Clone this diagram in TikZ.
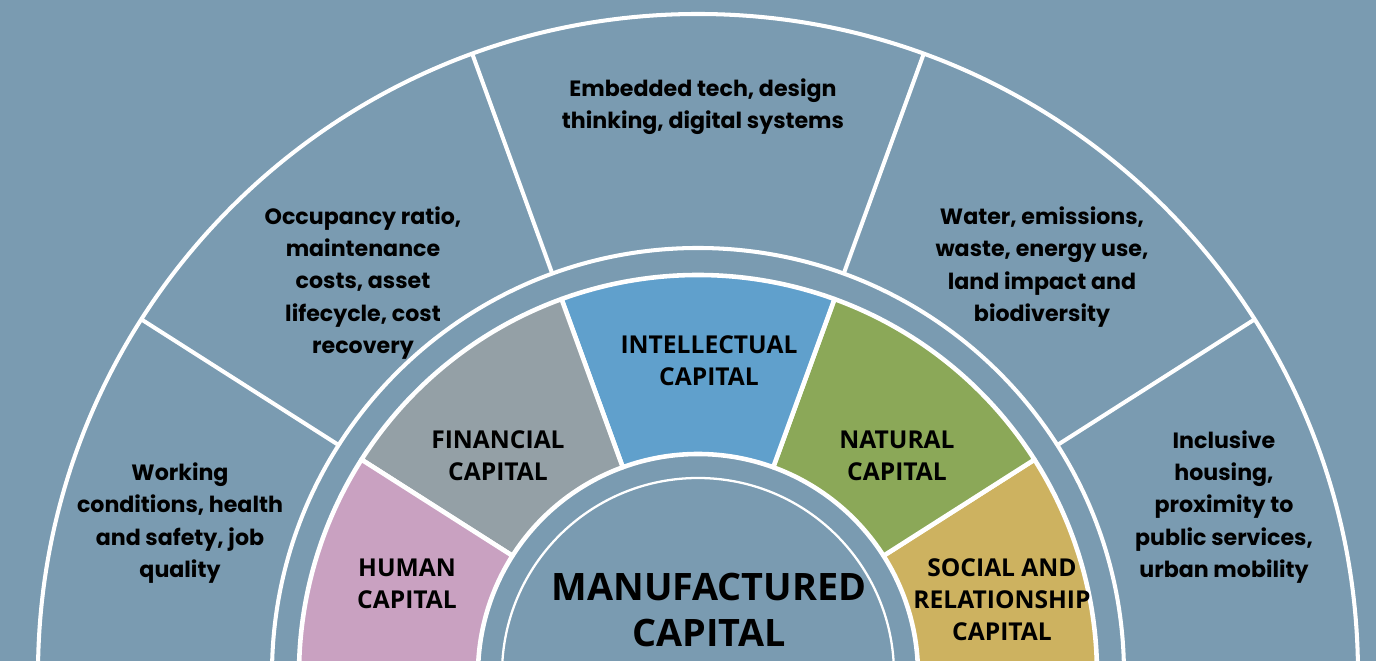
\documentclass[tikz,border=0pt]{standalone}
\usepackage{fontspec}
\setmainfont{Open Sans}
\newfontfamily\notefont{Poppins}
\usetikzlibrary{positioning}

\definecolor{bgblue}{RGB}{122,155,177}
\definecolor{humanpink}{RGB}{201,161,193}
\definecolor{financegrey}{RGB}{148,160,166}
\definecolor{intellblue}{RGB}{96,160,204}
\definecolor{naturegreen}{RGB}{139,168,88}
\definecolor{socialgold}{RGB}{205,178,96}

\begin{document}
\begin{tikzpicture}[
    x=0.02cm, y=0.02cm,
    ringline/.style={white, line width=2.3pt},
    segment/.style={draw=white, line width=2.6pt, line join=round},
    caplabel/.style={align=center, inner sep=0pt, font=\bfseries\fontsize{14}{18.2}\selectfont},
    note/.style={align=center, inner sep=0pt, font=\notefont\bfseries\fontsize{12.6}{18.4}\selectfont}
]

\useasboundingbox (-698,13) rectangle (678,674);
\clip (-698,13) rectangle (678,674);
\fill[bgblue] (-698,13) rectangle (678,674);

% outer ring of notes
\draw[ringline] (0,0) circle[radius=660];
\draw[ringline] (0,0) circle[radius=426];
\draw[ringline] (32.5:426) -- (32.5:660);
\draw[ringline] (70:426) -- (70:660);
\draw[ringline] (110:426) -- (110:660);
\draw[ringline] (147.5:426) -- (147.5:660);

% coloured ring of capitals
\path[segment, fill=socialgold] (0:220) -- (0:399) arc[start angle=0, end angle=32.5, radius=399] -- (32.5:220) arc[start angle=32.5, end angle=0, radius=220] -- cycle;
\path[segment, fill=naturegreen] (32.5:220) -- (32.5:399) arc[start angle=32.5, end angle=70, radius=399] -- (70:220) arc[start angle=70, end angle=32.5, radius=220] -- cycle;
\path[segment, fill=intellblue] (70:220) -- (70:399) arc[start angle=70, end angle=110, radius=399] -- (110:220) arc[start angle=110, end angle=70, radius=220] -- cycle;
\path[segment, fill=financegrey] (110:220) -- (110:399) arc[start angle=110, end angle=147.5, radius=399] -- (147.5:220) arc[start angle=147.5, end angle=110, radius=220] -- cycle;
\path[segment, fill=humanpink] (147.5:220) -- (147.5:399) arc[start angle=147.5, end angle=180, radius=399] -- (180:220) arc[start angle=180, end angle=147.5, radius=220] -- cycle;

% manufactured core
\draw[white, line width=1.3pt] (0,0) circle[radius=196];

\node[caplabel] (human) at (-291,90) {HUMAN\\CAPITAL};
\node[caplabel] (financial) at (-200,218) {FINANCIAL\\CAPITAL};
\node[caplabel] (intellectual) at (11,313) {INTELLECTUAL\\CAPITAL};
\node[caplabel] (natural) at (199,218) {NATURAL\\CAPITAL};
\node[caplabel] (social) at (304,74) {SOCIAL AND\\RELATIONSHIP\\CAPITAL};
\node[align=center, inner sep=0pt, font=\bfseries\fontsize{21.5}{26}\selectfont] (manufactured) at (11,64) {MANUFACTURED\\CAPITAL};

\node[note] (humannote) at (-518,151) {Working\\conditions, health\\and safety, job\\quality};
\node[note] (financialnote) at (-335,391) {Occupancy ratio,\\maintenance\\costs, asset\\lifecycle, cost\\recovery};
\node[note] (intellectualnote) at (5,567) {Embedded tech, design\\thinking, digital systems};
\node[note] (naturalnote) at (344,407) {Water, emissions,\\waste, energy use,\\land impact and\\biodiversity};
\node[note] (socialnote) at (526,167) {Inclusive\\housing,\\proximity to\\public services,\\urban mobility};

\end{tikzpicture}
\end{document}
